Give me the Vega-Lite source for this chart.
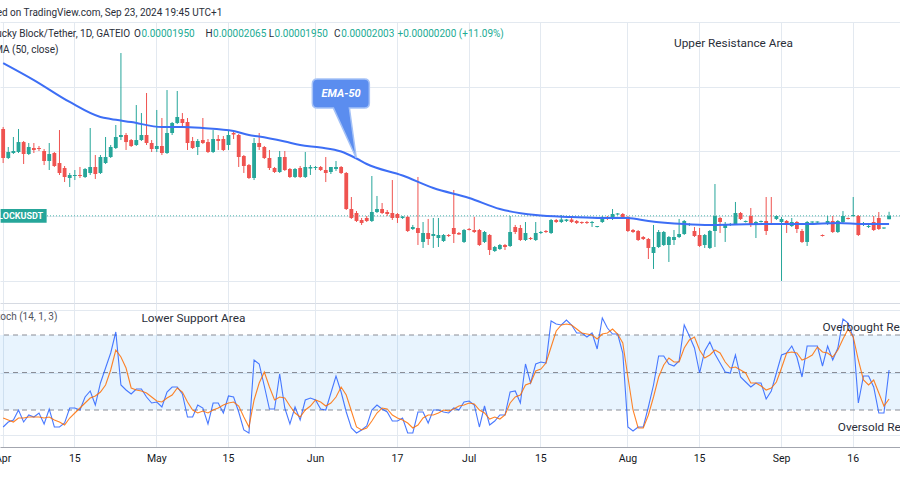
{
"$schema": "https://vega.github.io/schema/vega-lite/v6.json",
"background": "white",
"padding": {"left": -6, "top": 0, "right": 0, "bottom": 0},
"spacing": 0,
"config": {"view": {"stroke": null}, "font": "Roboto", "text": {"font": "Roboto"}},
"datasets": {
"bars": [
{"date":"2024-04-01","open":33.47,"high":33.78,"low":28.2,"close":28.98,"k":6.4,"d":13.6},
{"date":"2024-04-02","open":28.98,"high":30.68,"low":28.82,"close":29.91,"k":10.4,"d":12},
{"date":"2024-04-03","open":29.75,"high":32.23,"low":29.6,"close":30.06,"k":12,"d":10.4},
{"date":"2024-04-04","open":29.91,"high":33.47,"low":29.75,"close":31.45,"k":20,"d":13.6},
{"date":"2024-04-05","open":31.45,"high":31.61,"low":28.05,"close":29.6,"k":10.4,"d":13.6},
{"date":"2024-04-06","open":29.6,"high":31.3,"low":29.44,"close":30.68,"k":16,"d":14.4},
{"date":"2024-04-07","open":30.53,"high":31.3,"low":29.75,"close":30.22,"k":14.4,"d":14.4},
{"date":"2024-04-08","open":30.53,"high":30.84,"low":30.06,"close":30.37,"k":17.6,"d":14.4},
{"date":"2024-04-09","open":30.06,"high":30.37,"low":27.89,"close":28.51,"k":8.8,"d":13.6},
{"date":"2024-04-10","open":28.51,"high":31.3,"low":27.12,"close":29.6,"k":20.8,"d":14.4},
{"date":"2024-04-11","open":29.75,"high":29.91,"low":27.59,"close":27.74,"k":6.4,"d":12},
{"date":"2024-04-12","open":28.2,"high":33.31,"low":26.35,"close":26.66,"k":6.4,"d":10.4},
{"date":"2024-04-13","open":27.43,"high":27.74,"low":25.26,"close":26.04,"k":9.6,"d":8},
{"date":"2024-04-14","open":25.88,"high":26.66,"low":24.49,"close":26.35,"k":21.6,"d":13.6},
{"date":"2024-04-15","open":26.19,"high":27.12,"low":25.57,"close":26.35,"k":21.6,"d":17.6},
{"date":"2024-04-16","open":26.35,"high":27.59,"low":25.88,"close":26.19,"k":20,"d":21.6},
{"date":"2024-04-17","open":26.04,"high":27.43,"low":25.88,"close":27.28,"k":30.4,"d":25.6},
{"date":"2024-04-18","open":26.66,"high":33.62,"low":26.35,"close":27.59,"k":35.2,"d":29.6},
{"date":"2024-04-19","open":27.59,"high":29.44,"low":25.73,"close":26.5,"k":24,"d":31.2},
{"date":"2024-04-20","open":26.66,"high":29.44,"low":26.5,"close":29.13,"k":41.6,"d":34.4},
{"date":"2024-04-21","open":28.2,"high":32.23,"low":28.05,"close":29.13,"k":53.6,"d":40},
{"date":"2024-04-22","open":29.13,"high":30.99,"low":28.98,"close":30.68,"k":65.6,"d":52},
{"date":"2024-04-23","open":30.53,"high":34.09,"low":30.37,"close":32.23,"k":82.4,"d":68},
{"date":"2024-04-24","open":32.23,"high":45.23,"low":31.76,"close":32.54,"k":40,"d":62.4},
{"date":"2024-04-25","open":32.54,"high":32.85,"low":30.22,"close":31.45,"k":36,"d":53.6},
{"date":"2024-04-26","open":31.76,"high":31.92,"low":30.68,"close":30.84,"k":32.8,"d":37.6},
{"date":"2024-04-27","open":30.99,"high":37.18,"low":30.84,"close":31.76,"k":36.8,"d":36},
{"date":"2024-04-28","open":31.76,"high":35.94,"low":31.61,"close":32.54,"k":36.8,"d":35.2},
{"date":"2024-04-29","open":32.54,"high":39.04,"low":30.99,"close":31.3,"k":30.4,"d":33.6},
{"date":"2024-04-30","open":31.3,"high":31.76,"low":29.91,"close":30.37,"k":25.6,"d":30.4},
{"date":"2024-05-01","open":30.37,"high":36.41,"low":29.91,"close":30.84,"k":26.4,"d":27.2},
{"date":"2024-05-02","open":30.84,"high":35.17,"low":29.44,"close":29.75,"k":22.4,"d":26.4},
{"date":"2024-05-03","open":29.75,"high":39.5,"low":29.6,"close":32.85,"k":34.4,"d":29.6},
{"date":"2024-05-04","open":32.85,"high":34.55,"low":32.54,"close":34.4,"k":38.4,"d":32},
{"date":"2024-05-05","open":34.4,"high":39.35,"low":34.24,"close":35.33,"k":38.4,"d":37.6},
{"date":"2024-05-06","open":35.02,"high":35.94,"low":33.62,"close":34.4,"k":32.8,"d":34.4},
{"date":"2024-05-07","open":34.55,"high":35.17,"low":30.22,"close":31.3,"k":14.4,"d":26.4},
{"date":"2024-05-08","open":31.61,"high":32.23,"low":30.37,"close":30.53,"k":14.4,"d":20},
{"date":"2024-05-09","open":30.68,"high":31.92,"low":29.44,"close":31.61,"k":24,"d":17.6},
{"date":"2024-05-10","open":31.76,"high":35.17,"low":31.14,"close":31.3,"k":21.6,"d":19.2},
{"date":"2024-05-11","open":31.45,"high":31.92,"low":29.75,"close":29.91,"k":8.8,"d":17.6},
{"date":"2024-05-12","open":29.91,"high":33.31,"low":29.75,"close":31.92,"k":25.6,"d":20},
{"date":"2024-05-13","open":31.92,"high":32.54,"low":30.22,"close":31.61,"k":25.6,"d":21.6},
{"date":"2024-05-14","open":31.92,"high":32.38,"low":30.06,"close":30.22,"k":17.6,"d":24},
{"date":"2024-05-15","open":30.99,"high":33.31,"low":30.22,"close":32.54,"k":31.2,"d":25.6},
{"date":"2024-05-16","open":32.85,"high":33.0,"low":31.92,"close":32.62,"k":30.4,"d":26.4},
{"date":"2024-05-17","open":32.54,"high":32.69,"low":27.59,"close":29.13,"k":18.4,"d":23.2},
{"date":"2024-05-18","open":29.29,"high":29.44,"low":26.66,"close":27.74,"k":4,"d":14.4},
{"date":"2024-05-19","open":27.89,"high":28.05,"low":25.73,"close":25.88,"k":1.6,"d":6.4},
{"date":"2024-05-20","open":25.88,"high":32.07,"low":25.57,"close":31.3,"k":60,"d":28},
{"date":"2024-05-21","open":31.3,"high":32.85,"low":30.22,"close":30.68,"k":56.8,"d":41.6},
{"date":"2024-05-22","open":30.68,"high":30.84,"low":28.82,"close":28.98,"k":39.2,"d":50.4},
{"date":"2024-05-23","open":28.98,"high":30.22,"low":27.12,"close":27.43,"k":20.8,"d":38.4},
{"date":"2024-05-24","open":27.43,"high":27.59,"low":26.66,"close":26.81,"k":20.8,"d":28},
{"date":"2024-05-25","open":26.81,"high":30.06,"low":26.66,"close":29.13,"k":48.8,"d":30.4},
{"date":"2024-05-26","open":29.13,"high":30.06,"low":26.97,"close":27.12,"k":21.6,"d":29.6},
{"date":"2024-05-27","open":27.28,"high":27.43,"low":25.88,"close":26.04,"k":8.8,"d":23.2},
{"date":"2024-05-28","open":26.04,"high":27.43,"low":25.88,"close":27.28,"k":22.4,"d":17.6},
{"date":"2024-05-29","open":27.43,"high":27.74,"low":25.88,"close":26.04,"k":12,"d":14.4},
{"date":"2024-05-30","open":26.04,"high":29.91,"low":25.88,"close":27.59,"k":28,"d":20},
{"date":"2024-05-31","open":27.35,"high":27.89,"low":26.35,"close":27.59,"k":29.6,"d":23.2},
{"date":"2024-06-01","open":27.43,"high":27.74,"low":27.12,"close":27.59,"k":28,"d":28},
{"date":"2024-06-02","open":27.59,"high":27.74,"low":26.97,"close":27.12,"k":20.8,"d":26.4},
{"date":"2024-06-03","open":27.12,"high":29.13,"low":25.26,"close":26.66,"k":20,"d":23.2},
{"date":"2024-06-04","open":26.81,"high":27.43,"low":26.5,"close":27.59,"k":33.6,"d":25.6},
{"date":"2024-06-05","open":27.28,"high":28.51,"low":26.97,"close":27.59,"k":47.2,"d":30.4},
{"date":"2024-06-06","open":27.59,"high":27.74,"low":26.5,"close":26.66,"k":34.4,"d":38.4},
{"date":"2024-06-07","open":26.66,"high":26.81,"low":20.93,"close":21.08,"k":18.4,"d":32},
{"date":"2024-06-08","open":21.08,"high":22.94,"low":19.54,"close":19.69,"k":5.6,"d":19.2},
{"date":"2024-06-09","open":20.46,"high":20.77,"low":19.07,"close":19.23,"k":1.6,"d":6.4},
{"date":"2024-06-10","open":19.38,"high":19.69,"low":18.61,"close":18.92,"k":4,"d":4},
{"date":"2024-06-11","open":19.69,"high":20.0,"low":19.07,"close":19.23,"k":7.2,"d":5.6},
{"date":"2024-06-12","open":19.23,"high":26.19,"low":19.07,"close":20.62,"k":20,"d":11.2},
{"date":"2024-06-13","open":20.62,"high":23.1,"low":20.46,"close":21.08,"k":24,"d":17.6},
{"date":"2024-06-14","open":21.08,"high":22.01,"low":20.31,"close":20.46,"k":20.8,"d":21.6},
{"date":"2024-06-15","open":20.62,"high":20.93,"low":20.0,"close":20.31,"k":18.4,"d":20.8},
{"date":"2024-06-16","open":20.46,"high":25.57,"low":19.38,"close":19.69,"k":11.2,"d":16},
{"date":"2024-06-17","open":20.31,"high":20.46,"low":18.92,"close":19.69,"k":11.2,"d":13.6},
{"date":"2024-06-18","open":19.69,"high":20.0,"low":19.54,"close":19.92,"k":13.6,"d":12},
{"date":"2024-06-19","open":19.85,"high":20.0,"low":17.52,"close":17.68,"k":1.6,"d":9.6},
{"date":"2024-06-20","open":17.99,"high":18.61,"low":17.83,"close":18.3,"k":1.6,"d":5.6},
{"date":"2024-06-21","open":18.14,"high":26.04,"low":15.51,"close":17.37,"k":18.4,"d":8},
{"date":"2024-06-22","open":15.98,"high":19.07,"low":15.05,"close":17.37,"k":18.4,"d":13.6},
{"date":"2024-06-23","open":17.37,"high":19.54,"low":15.51,"close":16.44,"k":9.6,"d":16},
{"date":"2024-06-24","open":16.9,"high":19.69,"low":15.05,"close":17.21,"k":20,"d":16},
{"date":"2024-06-25","open":16.59,"high":19.69,"low":15.2,"close":17.06,"k":20,"d":17.6},
{"date":"2024-06-26","open":16.13,"high":17.21,"low":15.98,"close":17.06,"k":18.4,"d":20},
{"date":"2024-06-27","open":17.06,"high":17.21,"low":16.75,"close":16.9,"k":17.6,"d":19.2},
{"date":"2024-06-28","open":18.14,"high":24.02,"low":15.82,"close":17.21,"k":21.6,"d":20.8},
{"date":"2024-06-29","open":17.37,"high":17.52,"low":17.06,"close":17.14,"k":20,"d":23.2},
{"date":"2024-06-30","open":15.98,"high":17.99,"low":15.82,"close":17.83,"k":26.4,"d":24},
{"date":"2024-07-01","open":17.99,"high":18.14,"low":17.76,"close":17.83,"k":27.2,"d":25.6},
{"date":"2024-07-02","open":17.83,"high":19.85,"low":17.37,"close":17.52,"k":24,"d":24.8},
{"date":"2024-07-03","open":17.83,"high":17.99,"low":15.36,"close":15.51,"k":6.4,"d":20},
{"date":"2024-07-04","open":15.98,"high":17.68,"low":15.82,"close":17.52,"k":23.2,"d":17.6},
{"date":"2024-07-05","open":17.06,"high":17.21,"low":13.96,"close":14.74,"k":8,"d":12.8},
{"date":"2024-07-06","open":14.58,"high":15.36,"low":14.43,"close":15.2,"k":11.2,"d":14.4},
{"date":"2024-07-07","open":14.89,"high":15.67,"low":14.74,"close":15.51,"k":16,"d":12.8},
{"date":"2024-07-08","open":15.51,"high":15.67,"low":14.74,"close":15.2,"k":16,"d":16},
{"date":"2024-07-09","open":15.36,"high":20.0,"low":15.2,"close":17.52,"k":34.4,"d":25.6},
{"date":"2024-07-10","open":18.3,"high":18.61,"low":17.21,"close":17.52,"k":35.2,"d":30.4},
{"date":"2024-07-11","open":18.14,"high":18.61,"low":16.13,"close":16.28,"k":25.6,"d":32},
{"date":"2024-07-12","open":16.28,"high":19.07,"low":16.13,"close":17.37,"k":56.8,"d":40},
{"date":"2024-07-13","open":16.59,"high":16.75,"low":16.28,"close":16.44,"k":41.6,"d":41.6},
{"date":"2024-07-14","open":16.28,"high":19.07,"low":16.13,"close":17.37,"k":56.8,"d":51.2},
{"date":"2024-07-15","open":17.37,"high":17.68,"low":17.21,"close":17.52,"k":58.4,"d":52.8},
{"date":"2024-07-16","open":17.68,"high":17.83,"low":17.37,"close":17.52,"k":57.6,"d":57.6},
{"date":"2024-07-17","open":17.37,"high":19.54,"low":17.21,"close":19.38,"k":91.2,"d":70.4},
{"date":"2024-07-18","open":19.38,"high":19.54,"low":18.92,"close":19.07,"k":88.8,"d":83.2},
{"date":"2024-07-19","open":19.07,"high":20.15,"low":18.92,"close":19.46,"k":88,"d":88},
{"date":"2024-07-20","open":19.23,"high":19.54,"low":19.07,"close":19.46,"k":92,"d":88.8},
{"date":"2024-07-21","open":19.46,"high":19.69,"low":18.92,"close":19.07,"k":88,"d":88},
{"date":"2024-07-22","open":19.23,"high":19.38,"low":18.76,"close":18.92,"k":81.6,"d":84.8},
{"date":"2024-07-23","open":19.07,"high":19.15,"low":18.76,"close":18.92,"k":81.6,"d":81.6},
{"date":"2024-07-24","open":19.07,"high":19.23,"low":18.76,"close":18.92,"k":78.4,"d":80.8},
{"date":"2024-07-25","open":18.92,"high":19.23,"low":18.3,"close":19.07,"k":81.6,"d":80},
{"date":"2024-07-26","open":18.3,"high":18.45,"low":18.22,"close":18.45,"k":68.8,"d":76.8},
{"date":"2024-07-27","open":19.07,"high":20.0,"low":18.92,"close":19.85,"k":93.6,"d":80.8},
{"date":"2024-07-28","open":19.85,"high":20.0,"low":19.38,"close":19.54,"k":85.6,"d":81.6},
{"date":"2024-07-29","open":19.54,"high":21.08,"low":19.38,"close":20.31,"k":80.8,"d":84.8},
{"date":"2024-07-30","open":20.23,"high":20.46,"low":20.15,"close":20.39,"k":80.8,"d":80.8},
{"date":"2024-07-31","open":20.31,"high":20.46,"low":19.69,"close":19.85,"k":65.6,"d":73.6},
{"date":"2024-08-01","open":19.85,"high":20.0,"low":17.52,"close":17.68,"k":6.4,"d":46.4},
{"date":"2024-08-02","open":17.83,"high":17.99,"low":17.37,"close":17.52,"k":3.2,"d":20},
{"date":"2024-08-03","open":17.68,"high":17.83,"low":16.13,"close":16.28,"k":6.4,"d":5.6},
{"date":"2024-08-04","open":16.75,"high":16.9,"low":16.28,"close":16.44,"k":6.4,"d":5.6},
{"date":"2024-08-05","open":16.44,"high":16.59,"low":13.34,"close":15.05,"k":22.4,"d":16},
{"date":"2024-08-06","open":14.27,"high":18.61,"low":11.8,"close":15.2,"k":40,"d":30.4},
{"date":"2024-08-07","open":15.2,"high":17.83,"low":15.05,"close":17.52,"k":63.2,"d":46.4},
{"date":"2024-08-08","open":15.51,"high":17.68,"low":15.36,"close":17.52,"k":63.2,"d":56},
{"date":"2024-08-09","open":15.51,"high":16.9,"low":12.88,"close":16.75,"k":56.8,"d":61.6},
{"date":"2024-08-10","open":16.28,"high":17.83,"low":15.51,"close":16.75,"k":55.2,"d":58.4},
{"date":"2024-08-11","open":16.75,"high":19.54,"low":16.59,"close":17.21,"k":59.2,"d":58.4},
{"date":"2024-08-12","open":17.21,"high":19.38,"low":17.06,"close":19.23,"k":88,"d":69.6},
{"date":"2024-08-13","open":18.61,"high":18.92,"low":18.45,"close":18.76,"k":79.2,"d":76},
{"date":"2024-08-14","open":17.68,"high":18.3,"low":16.75,"close":16.9,"k":69.6,"d":78.4},
{"date":"2024-08-15","open":17.06,"high":18.14,"low":15.2,"close":15.36,"k":49.6,"d":68},
{"date":"2024-08-16","open":15.51,"high":17.21,"low":15.05,"close":17.06,"k":67.2,"d":61.6},
{"date":"2024-08-17","open":15.05,"high":17.83,"low":14.89,"close":17.68,"k":74.4,"d":64},
{"date":"2024-08-18","open":17.68,"high":24.95,"low":15.2,"close":20.0,"k":64.8,"d":68},
{"date":"2024-08-19","open":19.69,"high":19.85,"low":17.37,"close":19.07,"k":57.6,"d":65.6},
{"date":"2024-08-20","open":18.14,"high":19.07,"low":15.98,"close":18.76,"k":50.4,"d":58.4},
{"date":"2024-08-21","open":18.61,"high":18.92,"low":18.45,"close":18.76,"k":49.6,"d":53.6},
{"date":"2024-08-22","open":18.76,"high":22.17,"low":18.61,"close":20.46,"k":64,"d":54.4},
{"date":"2024-08-23","open":20.46,"high":20.62,"low":19.38,"close":19.54,"k":46.4,"d":52},
{"date":"2024-08-25","open":19.07,"high":19.3,"low":18.99,"close":19.23,"k":42.4,"d":49.6},
{"date":"2024-08-26","open":20.0,"high":21.24,"low":18.3,"close":18.76,"k":38.4,"d":41.6},
{"date":"2024-08-27","open":18.76,"high":19.23,"low":16.59,"close":19.07,"k":41.6,"d":41.6},
{"date":"2024-08-28","open":19.07,"high":19.3,"low":18.99,"close":19.23,"k":41.6,"d":39.2},
{"date":"2024-08-29","open":19.23,"high":22.94,"low":17.06,"close":17.68,"k":28.8,"d":36},
{"date":"2024-08-30","open":18.84,"high":22.94,"low":18.61,"close":18.68,"k":35.2,"d":37.6},
{"date":"2024-08-31","open":19.54,"high":20.08,"low":19.38,"close":20.0,"k":49.6,"d":42.4},
{"date":"2024-09-01","open":19.07,"high":19.85,"low":9.94,"close":19.54,"k":64,"d":53.6},
{"date":"2024-09-02","open":19.23,"high":19.38,"low":17.37,"close":18.61,"k":65.6,"d":65.6},
{"date":"2024-09-03","open":18.45,"high":19.69,"low":18.3,"close":19.07,"k":71.2,"d":66.4},
{"date":"2024-09-04","open":19.07,"high":19.23,"low":17.37,"close":17.99,"k":62.4,"d":65.6},
{"date":"2024-09-05","open":17.68,"high":17.99,"low":15.82,"close":15.98,"k":46.4,"d":60},
{"date":"2024-09-06","open":15.98,"high":19.23,"low":15.36,"close":19.07,"k":71.2,"d":61.6},
{"date":"2024-09-07","open":18.99,"high":19.15,"low":18.92,"close":19.15,"k":71.2,"d":64},
{"date":"2024-09-09","open":18.99,"high":19.15,"low":18.92,"close":19.15,"k":71.2,"d":70.4},
{"date":"2024-09-10","open":17.06,"high":17.14,"low":16.82,"close":16.9,"k":55.2,"d":66.4},
{"date":"2024-09-11","open":18.76,"high":20.0,"low":18.61,"close":19.23,"k":71.2,"d":65.6},
{"date":"2024-09-12","open":19.23,"high":20.0,"low":17.37,"close":17.52,"k":60,"d":62.4},
{"date":"2024-09-13","open":17.52,"high":19.38,"low":17.37,"close":19.23,"k":69.6,"d":68},
{"date":"2024-09-14","open":19.07,"high":20.77,"low":18.92,"close":20.0,"k":92.8,"d":76.8},
{"date":"2024-09-15","open":19.69,"high":19.77,"low":19.46,"close":19.54,"k":89.6,"d":84.8},
{"date":"2024-09-16","open":20.0,"high":22.94,"low":19.85,"close":20.15,"k":78.4,"d":78.4},
{"date":"2024-09-17","open":20.0,"high":20.15,"low":16.9,"close":17.06,"k":25.6,"d":60},
{"date":"2024-09-18","open":18.68,"high":19.07,"low":18.45,"close":18.84,"k":47.2,"d":44},
{"date":"2024-09-19","open":18.3,"high":18.92,"low":18.14,"close":18.45,"k":47.2,"d":40},
{"date":"2024-09-20","open":19.07,"high":20.0,"low":17.68,"close":17.83,"k":38.4,"d":44},
{"date":"2024-09-21","open":19.69,"high":20.62,"low":17.83,"close":17.99,"k":17.6,"d":33.6},
{"date":"2024-09-22","open":18.07,"high":18.22,"low":17.99,"close":18.22,"k":17.6,"d":23.2},
{"date":"2024-09-23","open":19.5,"high":20.65,"low":19.5,"close":20.03,"k":52,"d":28.8}
],
"ema": [
{"date":"2024-04-01","ema":43.68},{"date":"2024-04-07","ema":41.05},{"date":"2024-04-14","ema":37.65},
{"date":"2024-04-20","ema":35.33},{"date":"2024-04-22","ema":35.02},{"date":"2024-04-26","ema":34.55},
{"date":"2024-05-02","ema":33.78},{"date":"2024-05-06","ema":33.78},{"date":"2024-05-10","ema":33.62},
{"date":"2024-05-16","ema":33.16},{"date":"2024-05-19","ema":32.54},{"date":"2024-05-21","ema":32.31},
{"date":"2024-05-26","ema":31.53},{"date":"2024-05-29","ema":30.99},{"date":"2024-06-02","ema":30.6},
{"date":"2024-06-06","ema":29.98},{"date":"2024-06-09","ema":28.9},{"date":"2024-06-11","ema":28.05},
{"date":"2024-06-18","ema":26.27},{"date":"2024-06-24","ema":24.33},{"date":"2024-07-01","ema":22.79},
{"date":"2024-07-07","ema":21.08},{"date":"2024-07-14","ema":20.15},{"date":"2024-07-21","ema":19.85},
{"date":"2024-07-27","ema":19.69},{"date":"2024-08-01","ema":19.69},{"date":"2024-08-05","ema":19.23},
{"date":"2024-08-12","ema":18.76},{"date":"2024-08-17","ema":18.61},{"date":"2024-08-22","ema":18.68},
{"date":"2024-08-30","ema":18.76},{"date":"2024-09-06","ema":18.76},{"date":"2024-09-13","ema":18.92},
{"date":"2024-09-18","ema":18.76},{"date":"2024-09-23","ema":18.76}
]
},
"data": {"name": "bars"},
"resolve": {"scale": {"x": "shared"}},
"vconcat": [
{
"width": 900,
"height": 303,
"layer": [
{"data": {"values": [{"p": 20.03}]}, "mark": {"type": "rule", "color": "#26a69a", "strokeDash": [1, 2], "strokeWidth": 1, "opacity": 0.8},
 "encoding": {"y": {"field": "p", "type": "quantitative", "scale": {"domain": [6.53, 53.44], "nice": false, "zero": false},
        "axis": {"values": [10, 15, 20, 25, 30, 35, 40, 45, 50], "labels": false, "ticks": false, "domain": false, "grid": true, "gridColor": "#e3e9f0", "title": null}}}},
{"mark": {"type": "rule", "strokeWidth": 1},
 "encoding": {
  "x": {"field": "date", "type": "ordinal", "bandPosition": 0.5,
        "scale": {"type": "band", "paddingInner": 0.25, "paddingOuter": 1.125, "align": 0.12},
        "axis": {"values": ["2024-04-01","2024-04-15","2024-05-01","2024-05-15","2024-06-01","2024-06-17","2024-07-01","2024-07-15","2024-08-01","2024-08-15","2024-09-01","2024-09-16"],
                 "labels": false, "ticks": false, "domain": true, "domainColor": "#d6dae2", "grid": true, "gridColor": "#e3e9f0", "title": null, "bandPosition": 0.5}},
  "y": {"field": "low", "type": "quantitative"},
  "y2": {"field": "high"},
  "color": {"condition": {"test": "datum.close >= datum.open", "value": "#26a69a"}, "value": "#ef5350"}
 }},
{"data": {"values": [{}]}, "mark": {"type": "rect", "fill": "white"},
 "encoding": {"y": {"datum": 50.03, "type": "quantitative"}, "y2": {"datum": 53.44}}},
{"mark": {"type": "bar"},
 "encoding": {
  "x": {"field": "date", "type": "ordinal"},
  "y": {"field": "open", "type": "quantitative"},
  "y2": {"field": "close"},
  "color": {"condition": {"test": "datum.close >= datum.open", "value": "#26a69a"}, "value": "#ef5350"}
 }},
{"data": {"name": "ema"}, "mark": {"type": "line", "color": "#3d6ef5", "strokeWidth": 2, "interpolate": "monotone"},
 "encoding": {"x": {"field": "date", "type": "ordinal", "bandPosition": 0.5}, "y": {"field": "ema", "type": "quantitative"}}},
{"data": {"values": [{"date": "2024-04-05", "p": 20.03}]},
 "mark": {"type": "point", "shape": "M -1 -0.3 L 1 -0.3 L 1 0.3 L -1 0.3 Z", "size": 2116, "filled": true, "fill": "#26a69a", "strokeWidth": 0, "opacity": 1},
 "encoding": {"x": {"field": "date", "type": "ordinal", "bandPosition": 0.5}, "y": {"field": "p", "type": "quantitative"}}},
{"data": {"values": [{"date": "2024-04-09", "p": 20.03, "t": "LBLOCKUSDT"}]},
 "mark": {"type": "text", "align": "right", "baseline": "middle", "dx": -1, "fontSize": 9, "fontWeight": "bold", "color": "white", "clip": true},
 "encoding": {"x": {"field": "date", "type": "ordinal", "bandPosition": 0.5}, "y": {"field": "p", "type": "quantitative"}, "text": {"field": "t"}}},
{"data": {"values": [{"date": "2024-06-06", "p": 38.96}]},
 "mark": {"type": "point", "shape": "M -0.835 -0.51 L 0.815 -0.51 Q 0.99 -0.51 0.99 -0.335 L 0.99 0.335 Q 0.99 0.51 0.815 0.51 L 0.29 0.51 L 0.53 2.26 L -0.27 0.51 L -0.835 0.51 Q -1.01 0.51 -1.01 0.335 L -1.01 -0.335 Q -1.01 -0.51 -0.835 -0.51 Z",
          "size": 3249, "filled": true, "fill": "#5b8def", "stroke": "#a5c2f7", "strokeWidth": 1.5, "opacity": 1},
 "encoding": {"x": {"field": "date", "type": "ordinal", "bandPosition": 0.5}, "y": {"field": "p", "type": "quantitative"}}},
{"data": {"values": [{"date": "2024-06-06", "p": 38.96, "t": "EMA-50"}]},
 "mark": {"type": "text", "align": "center", "baseline": "middle", "fontSize": 11, "fontWeight": "bold", "fontStyle": "italic", "color": "white"},
 "encoding": {"x": {"field": "date", "type": "ordinal", "bandPosition": 0.5}, "y": {"field": "p", "type": "quantitative"}, "text": {"field": "t"}}},
{"data": {"values": [
   {"date": "2024-05-14", "p": 51.5, "t": "Published on TradingView.com, Sep 23, 2024 19:45 UTC+1"},
   {"date": "2024-04-26", "p": 48.17, "t": "Lucky Block/Tether, 1D, GATEIO"},
   {"date": "2024-04-12", "p": 45.7, "t": "EMA (50, close)"}]},
 "mark": {"type": "text", "align": "right", "baseline": "middle", "dx": -1, "fontSize": 10, "color": "#2a2e39", "clip": true},
 "encoding": {"x": {"field": "date", "type": "ordinal", "bandPosition": 0.5}, "y": {"field": "p", "type": "quantitative"}, "text": {"field": "t"}}},
{"data": {"values": [
   {"date": "2024-04-28", "p": 48.17, "t": "O"},
   {"date": "2024-05-12", "p": 48.17, "t": "H"},
   {"date": "2024-05-24", "p": 48.17, "t": "L"},
   {"date": "2024-06-06", "p": 48.17, "t": "C"}]},
 "mark": {"type": "text", "align": "right", "baseline": "middle", "dx": -0.5, "fontSize": 10, "color": "#2a2e39"},
 "encoding": {"x": {"field": "date", "type": "ordinal", "bandPosition": 0.5}, "y": {"field": "p", "type": "quantitative"}, "text": {"field": "t"}}},
{"data": {"values": [
   {"date": "2024-04-28", "p": 48.17, "t": "0.00001950"},
   {"date": "2024-05-12", "p": 48.17, "t": "0.00002065"},
   {"date": "2024-05-24", "p": 48.17, "t": "0.00001950"},
   {"date": "2024-06-06", "p": 48.17, "t": "0.00002003"},
   {"date": "2024-06-17", "p": 48.17, "t": "+0.00000200 (+11.09%)"}]},
 "mark": {"type": "text", "align": "left", "baseline": "middle", "fontSize": 10, "color": "#22ab94"},
 "encoding": {"x": {"field": "date", "type": "ordinal", "bandPosition": 0.5}, "y": {"field": "p", "type": "quantitative"}, "text": {"field": "t"}}},
{"data": {"values": [{"date": "2024-08-10", "p": 46.78, "t": "Upper Resistance Area"}]},
 "mark": {"type": "text", "align": "left", "baseline": "middle", "fontSize": 11.8, "color": "#2a2e39", "clip": true},
 "encoding": {"x": {"field": "date", "type": "ordinal", "bandPosition": 0.5}, "y": {"field": "p", "type": "quantitative"}, "text": {"field": "t"}}}
]
},
{
"width": 900,
"height": 144,
"layer": [
{"data": {"values": [{}]}, "mark": {"type": "rect", "fill": "#2196f3", "opacity": 0.1},
 "encoding": {"y": {"datum": 20, "type": "quantitative", "scale": {"domain": [-9.6, 105.6], "nice": false, "zero": false},
        "axis": {"values": [0, 25, 50, 75, 100], "labels": false, "ticks": false, "domain": false, "grid": true, "gridColor": "#e3e9f0", "title": null}},
  "y2": {"datum": 80}}},
{"data": {"values": [{"lv": 20}, {"lv": 50}, {"lv": 80}]}, "mark": {"type": "rule", "color": "#8a8d96", "strokeDash": [5, 4], "strokeWidth": 1},
 "encoding": {"y": {"field": "lv", "type": "quantitative"}}},
{"mark": {"type": "line", "color": "#2962ff", "strokeWidth": 1.1, "opacity": 0.85},
 "encoding": {
  "x": {"field": "date", "type": "ordinal", "bandPosition": 0.5,
        "scale": {"type": "band", "paddingInner": 0.25, "paddingOuter": 1.125, "align": 0.12},
        "axis": {"values": ["2024-04-01","2024-04-15","2024-05-01","2024-05-15","2024-06-01","2024-06-17","2024-07-01","2024-07-15","2024-08-01","2024-08-15","2024-09-01","2024-09-16"],
                 "labelExpr": "utcdate(toDate(datum.value)) == 1 ? utcFormat(toDate(datum.value), '%b') : utcFormat(toDate(datum.value), '%d')",
                 "labelAngle": 0, "labelFont": "Roboto", "labelFontSize": 10.5, "labelColor": "#131722", "labelPadding": 6, "labelOverlap": false,
                 "ticks": false, "domain": true, "domainColor": "#a3a6af", "grid": true, "gridColor": "#e3e9f0", "title": null, "bandPosition": 0.5}},
  "y": {"field": "k", "type": "quantitative"}
 }},
{"mark": {"type": "line", "color": "#ff6d00", "strokeWidth": 1.1, "opacity": 0.85},
 "encoding": {"x": {"field": "date", "type": "ordinal", "bandPosition": 0.5}, "y": {"field": "d", "type": "quantitative"}}},
{"data": {"values": [{"date": "2024-04-12", "s": 94.4, "t": "Stoch (14, 1, 3)"}]},
 "mark": {"type": "text", "align": "right", "baseline": "middle", "dx": -2, "fontSize": 10, "color": "#50535e", "clip": true},
 "encoding": {"x": {"field": "date", "type": "ordinal", "bandPosition": 0.5}, "y": {"field": "s", "type": "quantitative"}, "text": {"field": "t"}}},
{"data": {"values": [
   {"date": "2024-04-28", "s": 94, "t": "Lower Support Area"},
   {"date": "2024-09-10", "s": 86.4, "t": "Overbought Region"},
   {"date": "2024-09-13", "s": 6.4, "t": "Oversold Region"}]},
 "mark": {"type": "text", "align": "left", "baseline": "middle", "fontSize": 11.8, "color": "#2a2e39", "clip": true},
 "encoding": {"x": {"field": "date", "type": "ordinal", "bandPosition": 0.5}, "y": {"field": "s", "type": "quantitative"}, "text": {"field": "t"}}}
]
}
]
}
